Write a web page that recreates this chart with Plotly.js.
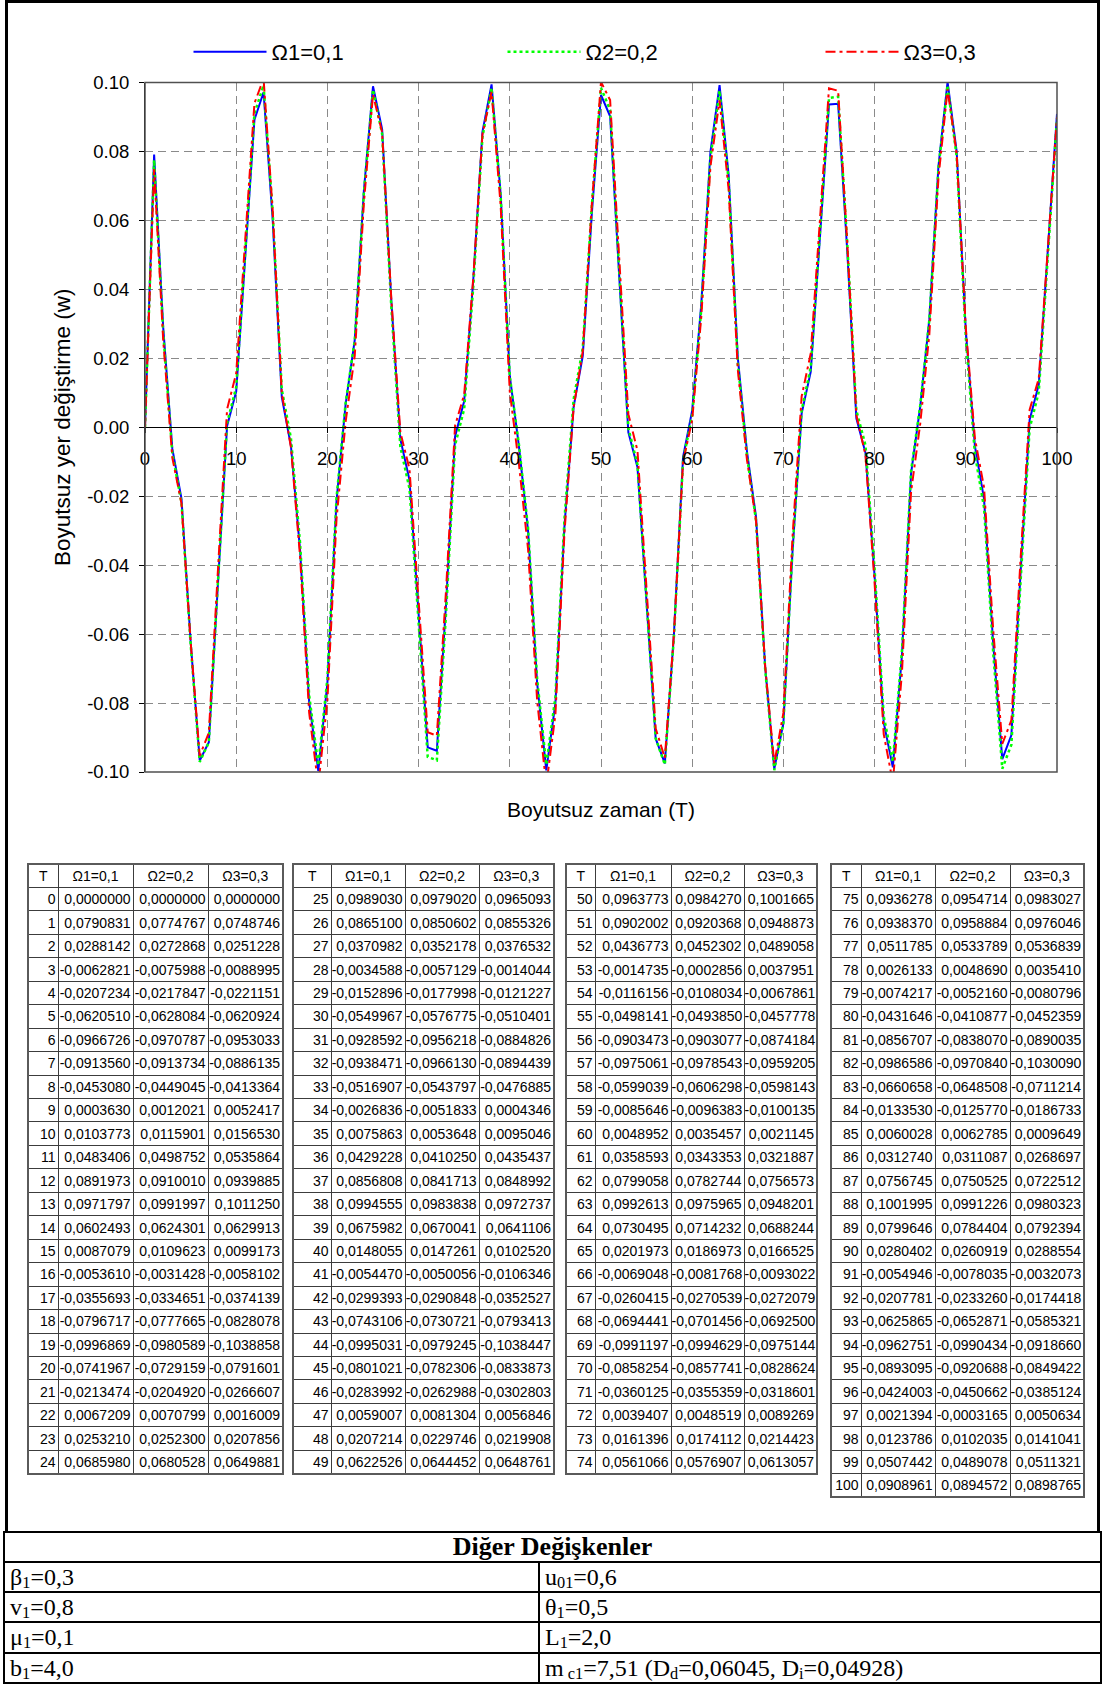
<!DOCTYPE html>
<html>
<head>
<meta charset="utf-8">
<script src="https://cdn.plot.ly/plotly-3.0.1.min.js"></script>
<style>
html,body{margin:0;padding:0;background:#fff;}
#page{position:relative;width:1103px;height:1688px;overflow:hidden;background:#fff;}
#chart{position:absolute;left:0;top:0;width:1103px;height:850px;}
#frame{position:absolute;left:5px;top:0;width:1095px;height:1532px;border:3px solid #000;border-bottom:none;pointer-events:none;box-sizing:border-box;}
.dt{position:absolute;top:863px;border-collapse:collapse;table-layout:fixed;font-family:"Liberation Sans",Arial,sans-serif;font-size:14px;color:#000;border:2px solid #5a5a5a;}
.dt tr{height:23.46px;}
.dt td,.dt th{border:1px solid #3c3c3c;padding:0 2px 0 0;text-align:right;white-space:nowrap;overflow:hidden;font-weight:normal;line-height:14px;}
.dt th{text-align:center;padding:0;}
#other{position:absolute;left:3px;top:1531px;width:1099px;border-collapse:collapse;table-layout:fixed;font-family:"Liberation Serif","Times New Roman",serif;font-size:24px;color:#000;}
#other tr{height:30.2px;}
#other tr.hd{height:30px;}
#other td{border:2px solid #000;padding:0 0 0 5px;text-align:left;white-space:nowrap;line-height:1;}
#other th{border:2px solid #000;text-align:center;font-weight:bold;line-height:1;font-size:26px;padding:0;}
#other sub{font-size:68%;vertical-align:-0.2em;line-height:0;}
</style>
</head>
<body>
<div id="page">
  <div id="chart"></div>
  <div id="frame"></div>
</div>
<script>
// ---------------- DATA ----------------
const T = [0,1,2,3,4,5,6,7,8,9,10,11,12,13,14,15,16,17,18,19,20,21,22,23,24,25,26,27,28,29,30,31,32,33,34,35,36,37,38,39,40,41,42,43,44,45,46,47,48,49,50,51,52,53,54,55,56,57,58,59,60,61,62,63,64,65,66,67,68,69,70,71,72,73,74,75,76,77,78,79,80,81,82,83,84,85,86,87,88,89,90,91,92,93,94,95,96,97,98,99,100];

const omega1 = [0.0000000, 0.0790831, 0.0288142, -0.0062821, -0.0207234, -0.0620510, -0.0966726, -0.0913560, -0.0453080, 0.0003630,
 0.0103773, 0.0483406, 0.0891973, 0.0971797, 0.0602493, 0.0087079, -0.0053610, -0.0355693, -0.0796717, -0.0996869,
 -0.0741967, -0.0213474, 0.0067209, 0.0253210, 0.0685980, 0.0989030, 0.0865100, 0.0370982, -0.0034588, -0.0152896,
 -0.0549967, -0.0928592, -0.0938471, -0.0516907, -0.0026836, 0.0075863, 0.0429228, 0.0856808, 0.0994555, 0.0675982,
 0.0148055, -0.0054470, -0.0299393, -0.0743106, -0.0995031, -0.0801021, -0.0283992, 0.0059007, 0.0207214, 0.0622526,
 0.0963773, 0.0902002, 0.0436773, -0.0014735, -0.0116156, -0.0498141, -0.0903473, -0.0975061, -0.0599039, -0.0085646,
 0.0048952, 0.0358593, 0.0799058, 0.0992613, 0.0730495, 0.0201973, -0.0069048, -0.0260415, -0.0694441, -0.0991197,
 -0.0858254, -0.0360125, 0.0039407, 0.0161396, 0.0561066, 0.0936278, 0.0938370, 0.0511785, 0.0026133, -0.0074217,
 -0.0431646, -0.0856707, -0.0986586, -0.0660658, -0.0133530, 0.0060028, 0.0312740, 0.0756745, 0.1001995, 0.0799646,
 0.0280402, -0.0054946, -0.0207781, -0.0625865, -0.0962751, -0.0893095, -0.0424003, 0.0021394, 0.0123786, 0.0507442,
 0.0908961];

const omega2 = [0.0000000, 0.0774767, 0.0272868, -0.0075988, -0.0217847, -0.0628084, -0.0970787, -0.0913734, -0.0449045, 0.0012021,
 0.0115901, 0.0498752, 0.0910010, 0.0991997, 0.0624301, 0.0109623, -0.0031428, -0.0334651, -0.0777665, -0.0980589,
 -0.0729159, -0.0204920, 0.0070799, 0.0252300, 0.0680528, 0.0979020, 0.0850602, 0.0352178, -0.0057129, -0.0177998,
 -0.0576775, -0.0956218, -0.0966130, -0.0543797, -0.0051833, 0.0053648, 0.0410250, 0.0841713, 0.0983838, 0.0670041,
 0.0147261, -0.0050056, -0.0290848, -0.0730721, -0.0979245, -0.0782306, -0.0262988, 0.0081304, 0.0229746, 0.0644452,
 0.0984270, 0.0920368, 0.0452302, -0.0002856, -0.0108034, -0.0493850, -0.0903077, -0.0978543, -0.0606298, -0.0096383,
 0.0035457, 0.0343353, 0.0782744, 0.0975965, 0.0714232, 0.0186973, -0.0081768, -0.0270539, -0.0701456, -0.0994629,
 -0.0857741, -0.0355359, 0.0048519, 0.0174112, 0.0576907, 0.0954714, 0.0958884, 0.0533789, 0.0048690, -0.0052160,
 -0.0410877, -0.0838070, -0.0970840, -0.0648508, -0.0125770, 0.0062785, 0.0311087, 0.0750525, 0.0991226, 0.0784404,
 0.0260919, -0.0078035, -0.0233260, -0.0652871, -0.0990434, -0.0920688, -0.0450662, -0.0003165, 0.0102035, 0.0489078,
 0.0894572];

const omega3 = [0.0000000, 0.0748746, 0.0251228, -0.0088995, -0.0221151, -0.0620924, -0.0953033, -0.0886135, -0.0413364, 0.0052417,
 0.0156530, 0.0535864, 0.0939885, 0.1011250, 0.0629913, 0.0099173, -0.0058102, -0.0374139, -0.0828078, -0.1038858,
 -0.0791601, -0.0266607, 0.0016009, 0.0207856, 0.0649881, 0.0965093, 0.0855326, 0.0376532, -0.0014044, -0.0121227,
 -0.0510401, -0.0884826, -0.0894439, -0.0476885, 0.0004346, 0.0095046, 0.0435437, 0.0848992, 0.0972737, 0.0641106,
 0.0102520, -0.0106346, -0.0352527, -0.0793413, -0.1038447, -0.0833873, -0.0302803, 0.0056846, 0.0219908, 0.0648761,
 0.1001665, 0.0948873, 0.0489058, 0.0037951, -0.0067861, -0.0457778, -0.0874184, -0.0959205, -0.0598143, -0.0100135,
 0.0021145, 0.0321887, 0.0756573, 0.0948201, 0.0688244, 0.0166525, -0.0093022, -0.0272079, -0.0692500, -0.0975144,
 -0.0828624, -0.0318601, 0.0089269, 0.0214423, 0.0613057, 0.0983027, 0.0976046, 0.0536839, 0.0035410, -0.0080796,
 -0.0452359, -0.0890035, -0.1030090, -0.0711214, -0.0186733, 0.0009649, 0.0268697, 0.0722512, 0.0980323, 0.0792394,
 0.0288554, -0.0032073, -0.0174418, -0.0585321, -0.0918660, -0.0849422, -0.0385124, 0.0050634, 0.0141041, 0.0511321,
 0.0898765];

const seriesNames = ['Ω1=0,1', 'Ω2=0,2', 'Ω3=0,3'];
const tableHeaderT = 'T';

const xTickVals = [0, 10, 20, 30, 40, 50, 60, 70, 80, 90, 100];
const xTickText = ['0', '10', '20', '30', '40', '50', '60', '70', '80', '90', '100'];
const yTickVals = [-0.10, -0.08, -0.06, -0.04, -0.02, 0.00, 0.02, 0.04, 0.06, 0.08, 0.10];
const yTickText = ['-0.10', '-0.08', '-0.06', '-0.04', '-0.02', '0.00', '0.02', '0.04', '0.06', '0.08', '0.10'];

const xTitle = 'Boyutsuz zaman (T)';
const yTitle = 'Boyutsuz yer değiştirme (w)';

// table split (first T, last T of each block)
const tableBlocks = [[0, 24], [25, 49], [50, 74], [75, 100]];

// "Diğer Değişkenler" parameters
const otherTitle = 'Diğer Değişkenler';
const otherLeft = ['β<sub>1</sub>=0,3', 'v<sub>1</sub>=0,8', 'μ<sub>1</sub>=0,1', 'b<sub>1</sub>=4,0'];
const otherRight = ['u<sub>01</sub>=0,6', 'θ<sub>1</sub>=0,5', 'L<sub>1</sub>=2,0', 'm<sub> c1</sub>=7,51 (D<sub>d</sub>=0,06045, D<sub>i</sub>=0,04928)'];

// ---------------- CHART ----------------
const W = 1103, H = 850;
const xDom = [145 / W, 1057 / W];
const yDom = [1 - 772 / H, 1 - 82.5 / H];
const legendY = 1 - 52 / H;

const traces = [
  {x: T, y: omega1, name: seriesNames[0], type: 'scatter', mode: 'lines',
   line: {color: '#0000FF', width: 2}, legend: 'legend'},
  {x: T, y: omega2, name: seriesNames[1], type: 'scatter', mode: 'lines',
   line: {color: '#00FF00', width: 2.5, dash: '3px,3px'}, legend: 'legend2'},
  {x: T, y: omega3, name: seriesNames[2], type: 'scatter', mode: 'lines',
   line: {color: '#FF0000', width: 2, dash: '10px,4px,3px,4px'}, legend: 'legend3'}
];

function legendAt(px) {
  return {orientation: 'h', x: px / W, xanchor: 'left', y: legendY, yanchor: 'middle',
          font: {size: 22, color: '#000'}, itemwidth: 73, bgcolor: 'rgba(0,0,0,0)', borderwidth: 0};
}

const gridDash = '8px,5px';
const layout = {
  width: W, height: H,
  margin: {l: 0, r: 0, t: 0, b: 0, pad: 0},
  paper_bgcolor: 'rgba(0,0,0,0)',
  plot_bgcolor: '#ffffff',
  font: {family: '"Liberation Sans", Arial, sans-serif', size: 18.5, color: '#000'},
  showlegend: true,
  legend: legendAt(188.5),
  legend2: legendAt(502.5),
  legend3: legendAt(820.5),
  xaxis: {
    domain: xDom, range: [0, 100], anchor: 'free', position: (yDom[0] + yDom[1]) / 2,
    tickmode: 'array', tickvals: xTickVals, ticktext: xTickText,
    ticks: 'outside', ticklen: 5, tickcolor: '#000', ticklabelstandoff: 10,
    showline: true, linecolor: '#000', linewidth: 1,
    showgrid: true, gridcolor: '#8a8a8a', gridwidth: 1, griddash: gridDash,
    zeroline: false, fixedrange: true,
    title: {text: xTitle, font: {size: 21}, standoff: 333}
  },
  yaxis: {
    domain: yDom, range: [-0.1, 0.1],
    tickmode: 'array', tickvals: yTickVals, ticktext: yTickText,
    ticks: 'outside', ticklen: 5, tickcolor: '#000', ticklabelstandoff: 6,
    showline: true, linecolor: '#000', linewidth: 1,
    showgrid: true, gridcolor: '#8a8a8a', gridwidth: 1, griddash: gridDash,
    zeroline: false, fixedrange: true,
    title: {text: yTitle, font: {size: 22.5}, standoff: 10}
  },
  shapes: [
    {type: 'rect', xref: 'x domain', yref: 'y domain', x0: 0, x1: 1, y0: 0, y1: 1,
     line: {color: '#505050', width: 1.5}, layer: 'above'}
  ]
};

Plotly.newPlot('chart', traces, layout, {displayModeBar: false, staticPlot: true});

// ---------------- TABLES ----------------
const tableLefts = [27, 292, 565, 830];
const tableColWidths = [[30, 75, 75, 75], [38, 74, 74, 75], [29, 76, 73, 73], [30, 74, 75, 74]];
const fmt = v => v.toFixed(7).replace('.', ',');
const page = document.getElementById('page');

tableBlocks.forEach((blk, i) => {
  const tb = document.createElement('table');
  tb.className = 'dt';
  tb.style.left = tableLefts[i] + 'px';
  const cg = document.createElement('colgroup');
  let tw = 0;
  tableColWidths[i].forEach(w => { const c = document.createElement('col'); c.style.width = w + 'px'; cg.appendChild(c); tw += w; });
  tb.style.width = tw + 'px';
  tb.appendChild(cg);
  const hr = document.createElement('tr');
  [tableHeaderT].concat(seriesNames).forEach(h => { const th = document.createElement('th'); th.textContent = h; hr.appendChild(th); });
  tb.appendChild(hr);
  for (let k = blk[0]; k <= blk[1]; k++) {
    const tr = document.createElement('tr');
    [String(T[k]), fmt(omega1[k]), fmt(omega2[k]), fmt(omega3[k])].forEach(v => {
      const td = document.createElement('td'); td.textContent = v; tr.appendChild(td);
    });
    tb.appendChild(tr);
  }
  page.appendChild(tb);
});

// Diğer Değişkenler table
const ot = document.createElement('table');
ot.id = 'other';
ot.innerHTML = '<colgroup><col style="width:535px"><col></colgroup>';
const ohr = document.createElement('tr');
ohr.className = 'hd';
const oth = document.createElement('th'); oth.colSpan = 2; oth.textContent = otherTitle; ohr.appendChild(oth);
ot.appendChild(ohr);
otherLeft.forEach((l, i) => {
  const tr = document.createElement('tr');
  const a = document.createElement('td'); a.innerHTML = l;
  const b = document.createElement('td'); b.innerHTML = otherRight[i];
  tr.appendChild(a); tr.appendChild(b);
  ot.appendChild(tr);
});
page.appendChild(ot);
</script>
</body>
</html>
